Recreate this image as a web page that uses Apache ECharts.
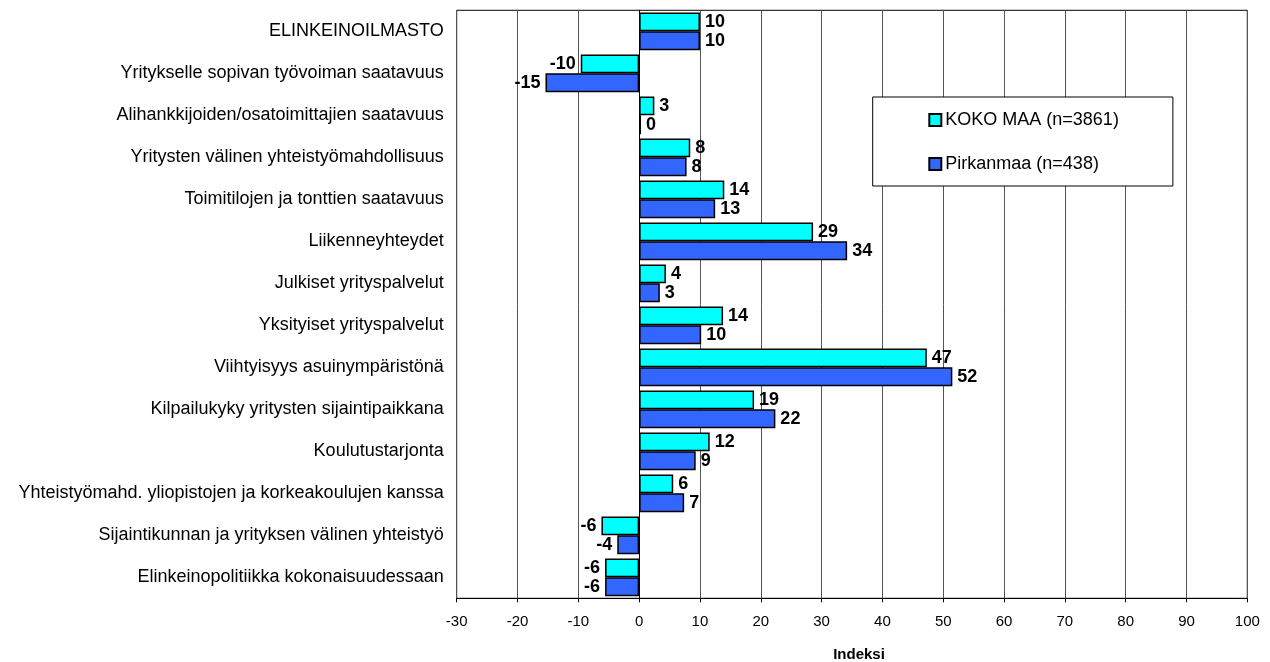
<!DOCTYPE html>
<html>
<head>
<meta charset="utf-8">
<script src="https://cdn.jsdelivr.net/npm/echarts@6/dist/echarts.min.js"></script>
<style>
html,body{margin:0;padding:0;background:#fff;}
#chart{width:1270px;height:662px;}
</style>
</head>
<body>
<div id="chart"></div>
<script>
const categories = [
  "ELINKEINOILMASTO",
  "Yritykselle sopivan työvoiman saatavuus",
  "Alihankkijoiden/osatoimittajien saatavuus",
  "Yritysten välinen yhteistyömahdollisuus",
  "Toimitilojen ja tonttien saatavuus",
  "Liikenneyhteydet",
  "Julkiset yrityspalvelut",
  "Yksityiset yrityspalvelut",
  "Viihtyisyys asuinympäristönä",
  "Kilpailukyky yritysten sijaintipaikkana",
  "Koulutustarjonta",
  "Yhteistyömahd. yliopistojen ja korkeakoulujen kanssa",
  "Sijaintikunnan ja yrityksen välinen yhteistyö",
  "Elinkeinopolitiikka kokonaisuudessaan"
];
const kokoMaa = [10.0, -9.6, 2.5, 8.4, 14.0, 28.6, 4.4, 13.8, 47.3, 18.9, 11.6, 5.6, -6.2, -5.6];
const pirkanmaa = [10.0, -15.4, 0.3, 7.8, 12.5, 34.2, 3.4, 10.2, 51.5, 22.4, 9.3, 7.4, -3.6, -5.6];
const seriesNames = ["KOKO MAA (n=3861)", "Pirkanmaa (n=438)"];
const xTicks = {min: -30, max: 100, interval: 10};
const axisName = "Indeksi";

const FONT = "Liberation Sans, Arial, sans-serif";

function toData(arr) {
  return arr.map(v => ({
    value: v,
    label: {position: v < 0 ? 'left' : 'right'}
  }));
}

function makeSeries(name, arr, color) {
  return {
    name: name,
    type: 'bar',
    data: toData(arr),
    barGap: '0%',
    barCategoryGap: '10%',
    itemStyle: {color: color, borderColor: '#000', borderWidth: 1.5},
    label: {
      show: true,
      distance: 5,
      color: '#000',
      fontFamily: FONT,
      fontWeight: 'bold',
      fontSize: 18,
      formatter: p => String(Math.round(p.value))
    },
    emphasis: {disabled: true},
    animation: false
  };
}

const chart = echarts.init(document.getElementById('chart'), null, {renderer: 'canvas'});
chart.setOption({
  backgroundColor: '#fff',
  animation: false,
  textStyle: {fontFamily: FONT},
  grid: {
    left: 456.7, right: 22.7, top: 10.3, bottom: 63.7,
    containLabel: false,
    outerBoundsMode: 'none',
    show: true, borderColor: '#000', borderWidth: 1, backgroundColor: 'transparent'
  },
  legend: {
    orient: 'vertical',
    left: 872.7, top: 97,
    padding: [13, 54, 12, 55.6],
    itemWidth: 12, itemHeight: 12,
    itemGap: 24,
    backgroundColor: '#fff',
    borderColor: '#000',
    borderWidth: 1,
    textStyle: {color: '#000', fontSize: 18, fontFamily: FONT, lineHeight: 20, padding: [0,0,0,-1]},
    selectedMode: false,
    data: seriesNames.map(n => ({name: n, icon: 'rect'}))
  },
  xAxis: {
    type: 'value',
    min: xTicks.min, max: xTicks.max, interval: xTicks.interval,
    name: axisName,
    nameLocation: 'middle',
    nameGap: 49,
    nameTextStyle: {color: '#000', fontSize: 15, fontWeight: 'bold', fontFamily: FONT, padding: [0,0,0,14]},
    axisLine: {show: true, onZero: false, lineStyle: {color: '#000', width: 1}},
    axisTick: {show: true, length: 4, lineStyle: {color: '#000'}},
    axisLabel: {color: '#000', fontSize: 15, fontFamily: FONT, margin: 16},
    splitLine: {show: true, lineStyle: {color: '#555', width: 1}}
  },
  yAxis: {
    type: 'category',
    data: categories,
    inverse: true,
    axisLine: {show: true, lineStyle: {color: '#000'}},
    axisTick: {show: false},
    axisLabel: {color: '#000', fontSize: 18, fontFamily: FONT, margin: 13},
    splitLine: {show: false}
  },
  series: [
    makeSeries(seriesNames[0], kokoMaa, '#00FFFF'),
    makeSeries(seriesNames[1], pirkanmaa, '#3366FF')
  ]
});
</script>
</body>
</html>
